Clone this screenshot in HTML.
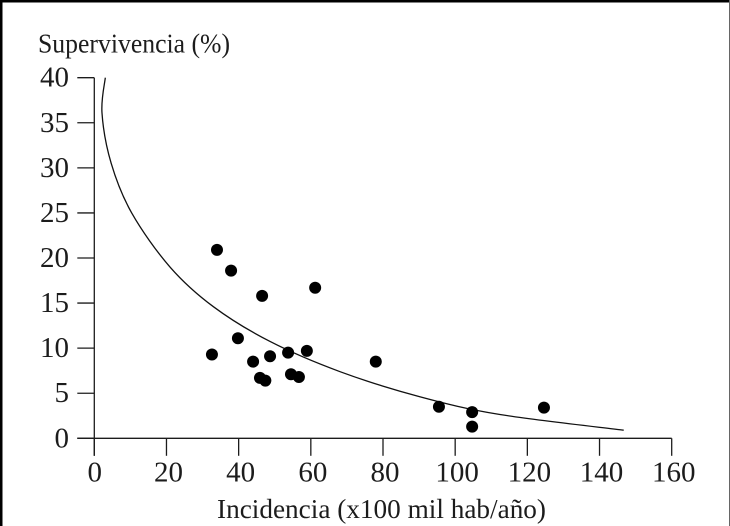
<!DOCTYPE html>
<html lang="es">
<head>
<meta charset="utf-8">
<title>Supervivencia vs Incidencia</title>
<style>
html,body{margin:0;padding:0;background:#fff;}
#chart{display:block;width:730px;height:526px;overflow:hidden;}
text{font-family:"Liberation Serif",serif;fill:#1c1c1c;}
</style>
</head>
<body>
<svg id="chart" width="730" height="526" viewBox="0 0 730 526" xmlns="http://www.w3.org/2000/svg">
  <rect x="0" y="0" width="730" height="2.5" fill="#000"/>
  <rect x="0" y="0" width="2.5" height="526" fill="#000"/>
  <rect x="729" y="0" width="1" height="526" fill="#666"/>
  <text x="38" y="52.5" font-size="27" textLength="192" lengthAdjust="spacingAndGlyphs">Supervivencia (%)</text>
  <text x="217" y="518" font-size="27" textLength="329" lengthAdjust="spacingAndGlyphs">Incidencia (x100 mil hab/año)</text>
  <g id="axes"></g>
  <path id="curve" fill="none" stroke="#111" stroke-width="1.3"></path>
  <g id="points"></g>
</svg>
<script>
const xTicks = [0, 20, 40, 60, 80, 100, 120, 140, 160];
const yTicks = [0, 5, 10, 15, 20, 25, 30, 35, 40];
const pointX = [34, 37.9, 46.5, 61.2, 39.8, 32.6, 44, 48.7, 53.7, 58.9, 45.9, 47.4, 54.5, 56.7, 78, 95.5, 104.7, 104.7, 124.6];
const pointY = [20.9, 18.6, 15.8, 16.7, 11.1, 9.3, 8.5, 9.1, 9.5, 9.7, 6.7, 6.4, 7.1, 6.8, 8.5, 3.5, 2.9, 1.3, 3.4];
const curveX = [3.05, 2.13, 4.68, 10.36, 20.98, 33, 48.7, 68.1, 90.2, 112.4, 146.7];
const curveY = [40, 36.1, 30.5, 25, 19, 14.6, 10.74, 7.39, 4.61, 2.64, 0.9];

const NS = 'http://www.w3.org/2000/svg';
function sx(v) { return 94.3 + v * (671.7 - 94.3) / 160; }
function sy(v) { return 438.3 - v * (438.3 - 77.7) / 40; }
function make(tag, parent) {
  const el = document.createElementNS(NS, tag);
  parent.appendChild(el);
  return el;
}
function line(parent, x1, y1, x2, y2) {
  const el = make('line', parent);
  el.setAttribute('x1', x1);
  el.setAttribute('y1', y1);
  el.setAttribute('x2', x2);
  el.setAttribute('y2', y2);
  el.setAttribute('stroke', '#1c1c1c');
  el.setAttribute('stroke-width', '1.3');
  return el;
}
const axes = document.getElementById('axes');

const xAxisLine = line(axes, sx(xTicks[0]) - 17, sy(0), sx(xTicks[xTicks.length - 1]), sy(0));


const yAxisLine = line(axes, sx(0), sy(yTicks[yTicks.length - 1]), sx(0), sy(0) + 17.5);



xTicks.forEach(function (t) {
  const tick = line(axes, sx(t), sy(0), sx(t), sy(0) + 17.5);
  
  
  const label = make('text', axes);
  
  
  label.setAttribute('x', sx(t) + (t === 0 ? 0.5 : 2));
  label.setAttribute('y', 481.5);
  label.setAttribute('font-size', '29');
  label.setAttribute('text-anchor', 'middle');
  label.textContent = t;
});

yTicks.forEach(function (t) {
  const tick = line(axes, sx(0) - 17, sy(t), sx(0), sy(t));
  
  
  const label = make('text', axes);
  
  
  label.setAttribute('x', 69);
  label.setAttribute('y', sy(t) + 9);
  label.setAttribute('font-size', '29');
  label.setAttribute('text-anchor', 'end');
  label.textContent = t;
});

/* Smooth curve through the read values (Catmull-Rom to Bezier) */
const cp = curveX.map(function (v, i) { return [sx(v), sy(curveY[i])]; });
let d = 'M' + cp[0][0] + ' ' + cp[0][1];
for (let i = 0; i < cp.length - 1; i++) {
  const p0 = cp[Math.max(i - 1, 0)];
  const p1 = cp[i];
  const p2 = cp[i + 1];
  const p3 = cp[Math.min(i + 2, cp.length - 1)];
  d += ' C' + (p1[0] + (p2[0] - p0[0]) / 6) + ' ' + (p1[1] + (p2[1] - p0[1]) / 6) +
       ' ' + (p2[0] - (p3[0] - p1[0]) / 6) + ' ' + (p2[1] - (p3[1] - p1[1]) / 6) +
       ' ' + p2[0] + ' ' + p2[1];
}
document.getElementById('curve').setAttribute('d', d);

const points = document.getElementById('points');
pointX.forEach(function (v, i) {
  const c = make('circle', points);
  
  
  c.setAttribute('cx', sx(v));
  c.setAttribute('cy', sy(pointY[i]));
  c.setAttribute('r', '6');
  c.setAttribute('fill', '#000');
});
</script>
</body>
</html>
